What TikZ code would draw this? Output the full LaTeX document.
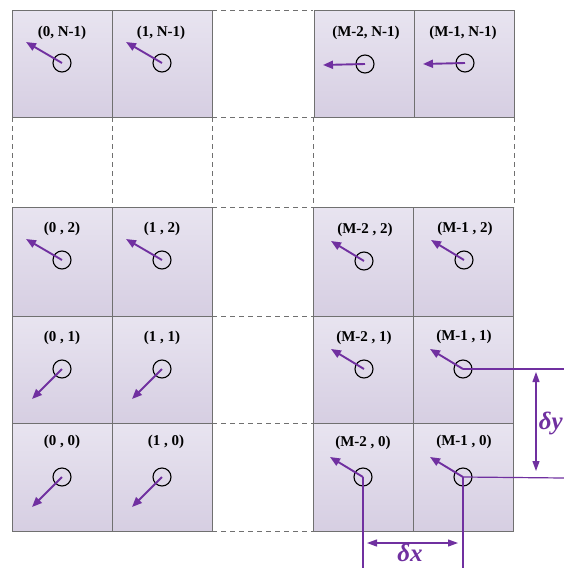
\documentclass[tikz,border=0pt]{standalone}
\usepackage{fontspec}
\setmainfont{Liberation Serif}
\usetikzlibrary{arrows.meta}
\definecolor{vecpurple}{HTML}{7030A0}
\definecolor{celltop}{HTML}{E8E4F0}
\definecolor{cellbot}{HTML}{D6CEE2}
\definecolor{celledge}{HTML}{707070}
\tikzset{
  cell/.style={rectangle, anchor=north west, minimum width=100pt,
    top color=celltop, bottom color=cellbot, draw=celledge, line width=0.9pt,
    inner sep=0pt},
  site/.style={circle, draw=black, line width=1.1pt, minimum size=18pt, inner sep=0pt},
  idx/.style={font=\bfseries\fontsize{15}{17}\selectfont, inner sep=0pt},
  vec/.style={vecpurple, line width=1.9pt, -{Triangle[length=10pt,width=8pt]}},
  dimline/.style={vecpurple, line width=1.2pt},
  dimarrow/.style={vecpurple, line width=1.2pt, {Triangle[length=10pt,width=7pt]}-{Triangle[length=10pt,width=7pt]}},
  gap/.style={draw=celledge, line width=0.8pt, dash pattern=on 5pt off 4pt},
  dimlabel/.style={vecpurple, font=\bfseries\itshape\fontsize{25}{27}\selectfont, inner sep=0pt}
}
\begin{document}
\begin{tikzpicture}[x=1pt, y=-1pt]
\useasboundingbox[fill=white] (0,0) rectangle (564,568);

% dashed outlines of the omitted rows and columns
\foreach \yy in {10,117,207,316,423,531}
  \draw[gap] (212,\yy) -- (313,\yy);
\foreach \xx in {12,112,212,313,514}
  \draw[gap] (\xx,117) -- (\xx,207);

% top row (j = N-1)
\node[cell, minimum height=107pt] (bn0) at (12,10) {};
\node[cell, minimum height=107pt] (bn1) at (112,10) {};
\node[cell, minimum height=107pt] (bnm2) at (314,10) {};
\node[cell, minimum height=107pt] (bnm1) at (414,10) {};
% row j = 2
\node[cell, minimum height=109pt] (b20) at (12,207) {};
\node[cell, minimum height=109pt] (b21) at (112,207) {};
\node[cell, minimum height=109pt] (b2m2) at (313,207) {};
\node[cell, minimum height=109pt] (b2m1) at (413,207) {};
% row j = 1
\node[cell, minimum height=107pt] (b10) at (12,316) {};
\node[cell, minimum height=107pt] (b11) at (112,316) {};
\node[cell, minimum height=107pt] (b1m2) at (313,316) {};
\node[cell, minimum height=107pt] (b1m1) at (413,316) {};
% row j = 0
\node[cell, minimum height=108pt] (b00) at (12,423) {};
\node[cell, minimum height=108pt] (b01) at (112,423) {};
\node[cell, minimum height=108pt] (b0m2) at (313,423) {};
\node[cell, minimum height=108pt] (b0m1) at (413,423) {};

% index labels
\node[idx] (ln0) at (62,33) {(0, N-1)};
\node[idx] (ln1) at (161,33) {(1, N-1)};
\node[idx] (lnm2) at (366,33) {(M-2, N-1)};
\node[idx] (lnm1) at (463,33) {(M-1, N-1)};
\node[idx] (l20) at (62,229) {(0 , 2)};
\node[idx] (l21) at (162,229) {(1 , 2)};
\node[idx] (l2m2) at (365,230) {(M-2 , 2)};
\node[idx] (l2m1) at (465,229) {(M-1 , 2)};
\node[idx] (l10) at (62,338) {(0 , 1)};
\node[idx] (l11) at (162,338) {(1 , 1)};
\node[idx] (l1m2) at (364,338) {(M-2 , 1)};
\node[idx] (l1m1) at (464,337) {(M-1 , 1)};
\node[idx] (l00) at (62,442) {(0 , 0)};
\node[idx] (l01) at (166,442) {(1 , 0)};
\node[idx] (l0m2) at (363,443) {(M-2 , 0)};
\node[idx] (l0m1) at (464,442) {(M-1 , 0)};

% grid points
\node[site] (cn0) at (62,63) {};
\node[site] (cn1) at (162,63) {};
\node[site] (cnm2) at (365,64) {};
\node[site] (cnm1) at (465,63) {};
\node[site] (c20) at (62,260) {};
\node[site] (c21) at (162,260) {};
\node[site] (c2m2) at (364,261) {};
\node[site] (c2m1) at (464,260) {};
\node[site] (c10) at (62,369) {};
\node[site] (c11) at (162,369) {};
\node[site] (c1m2) at (364,369) {};
\node[site] (c1m1) at (463,369) {};
\node[site] (c00) at (62,477) {};
\node[site] (c01) at (162,477) {};
\node[site] (c0m2) at (363,477) {};
\node[site] (c0m1) at (463,477) {};

% velocity vectors
\foreach \c in {n0,n1,20,21}
  \draw[vec] (c\c.center) -- ++(-36,-21) coordinate (t\c);
\foreach \c in {nm2,nm1}
  \draw[vec] (c\c.center) -- ++(-42,1) coordinate (t\c);
\foreach \c in {2m2,2m1,1m2,1m1,0m2,0m1}
  \draw[vec] (c\c.center) -- ++(-33,-20) coordinate (t\c);
\foreach \c in {10,11,00,01}
  \draw[vec] (c\c.center) -- ++(-30,30) coordinate (t\c);

% spacing dimensions
\coordinate (ey1) at (564,369);
\coordinate (ey0) at (564,478);
\coordinate (ex0) at (363,568);
\coordinate (ex1) at (463,568);
\draw[dimline] (c1m1.center) -- (ey1);
\draw[dimline] (c0m1.center) -- (ey0);
\draw[dimline] (c0m2.center) -- (ex0);
\draw[dimline] (c0m1.center) -- (ex1);
\coordinate (dyt) at (536,372);
\coordinate (dyb) at (536,471);
\coordinate (dxl) at (367,543);
\coordinate (dxr) at (458,543);
\draw[dimarrow] (dyt) -- (dyb);
\draw[dimarrow] (dxl) -- (dxr);
\node[dimlabel, anchor=east] (dy) at (563,423) {δy};
\node[dimlabel] (dx) at (410,553) {δx};
\end{tikzpicture}
\end{document}
